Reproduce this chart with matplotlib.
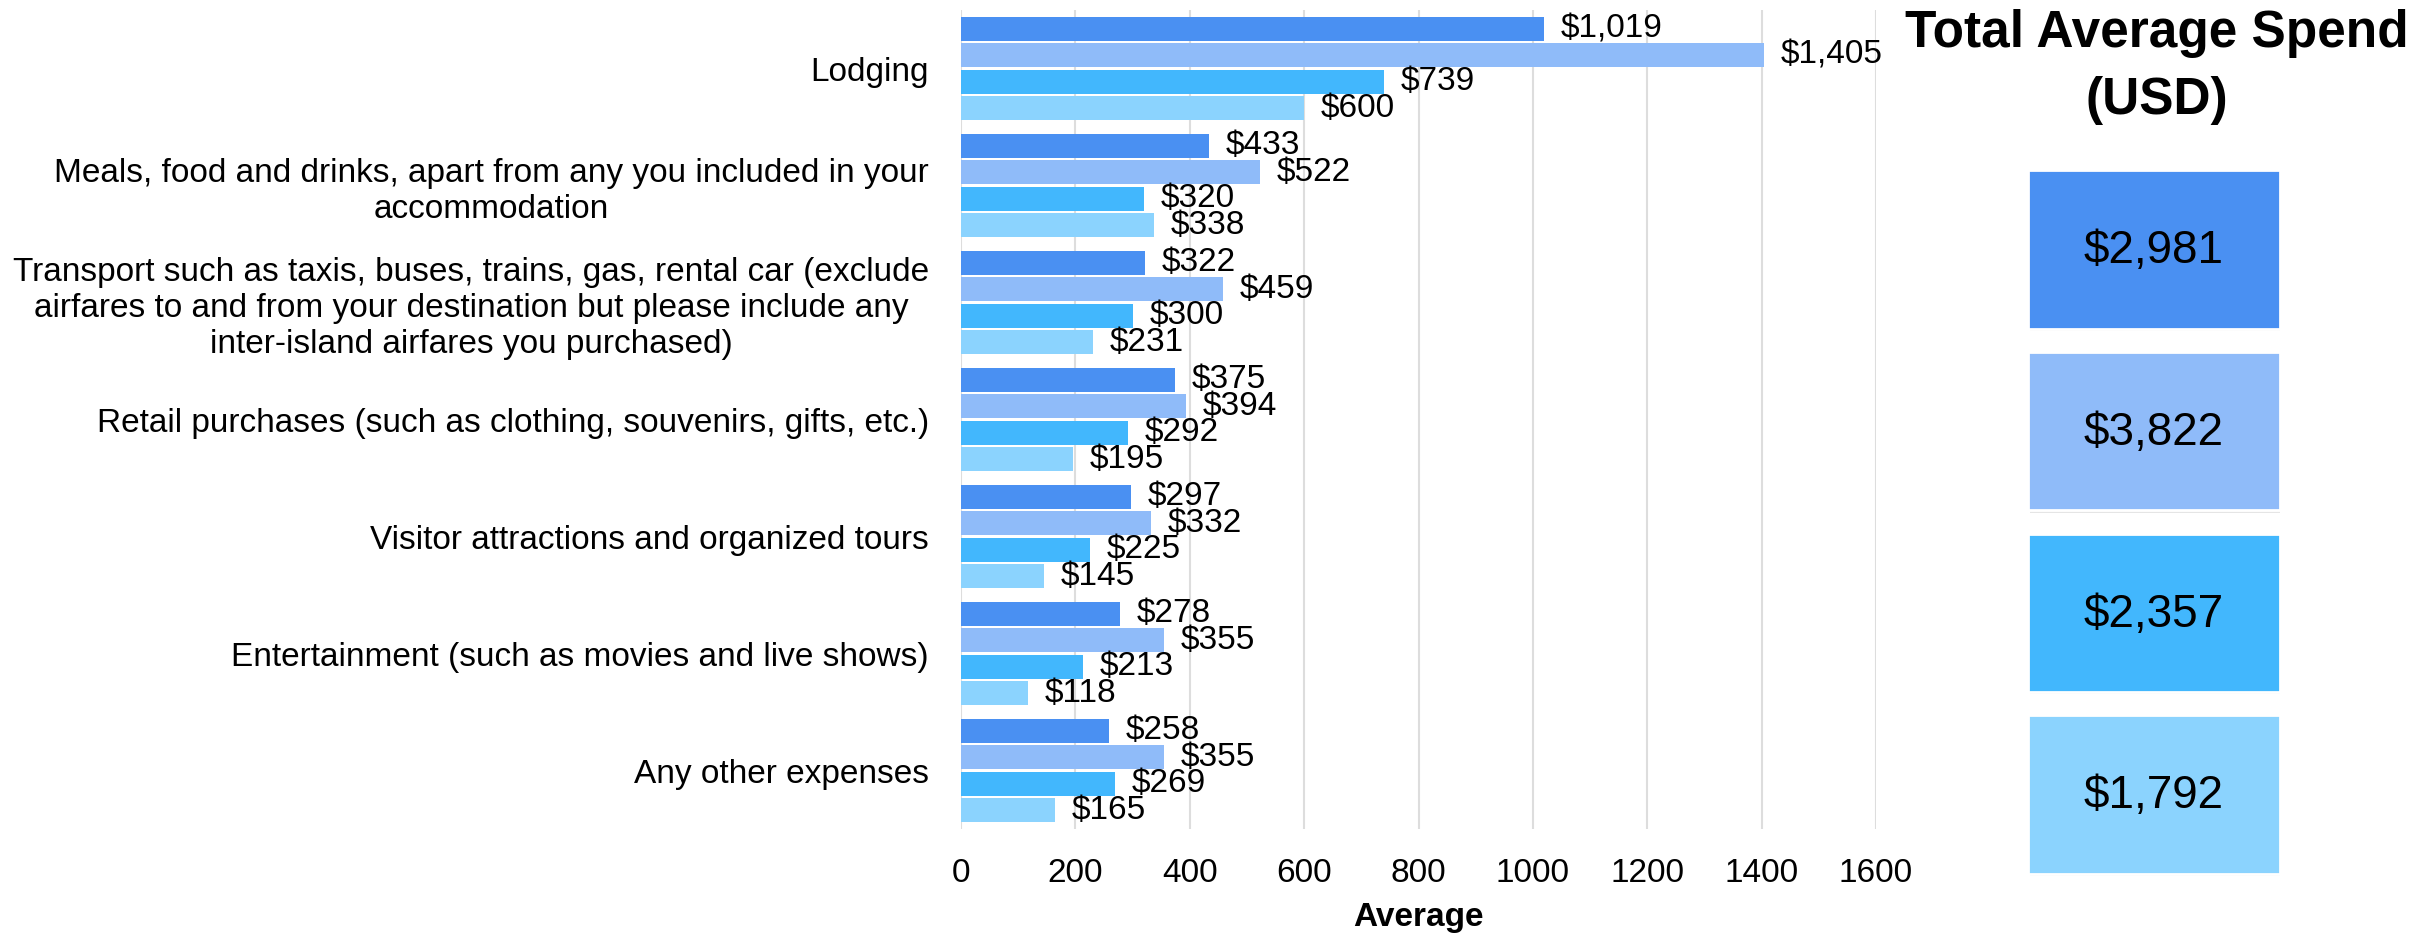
import matplotlib.pyplot as plt
import matplotlib.patheffects as pe
import numpy as np

plt.rcParams['font.family'] = ['Liberation Sans', 'DejaVu Sans']

# категории расходов
categories = [
    'Lodging',
    'Meals, food and drinks, apart from any you included in your\naccommodation',
    'Transport such as taxis, buses, trains, gas, rental car (exclude\n'
    'airfares to and from your destination but please include any\n'
    'inter-island airfares you purchased)',
    'Retail purchases (such as clothing, souvenirs, gifts, etc.)',
    'Visitor attractions and organized tours',
    'Entertainment (such as movies and live shows)',
    'Any other expenses',
]

# значения по четырём сериям
series_1 = [1019, 433, 322, 375, 297, 278, 258]
series_2 = [1405, 522, 459, 394, 332, 355, 355]
series_3 = [739, 320, 300, 292, 225, 213, 269]
series_4 = [600, 338, 231, 195, 145, 118, 165]

# итоговые суммы
totals = [2981, 3822, 2357, 1792]

x_ticks = [0, 200, 400, 600, 800, 1000, 1200, 1400, 1600]

colors = ['#4A90F2', '#8FBBF9', '#42B7FD', '#8BD3FE']

fig = plt.figure(figsize=(24.28, 9.38), dpi=100)
ax = fig.add_axes([961 / 2428, 1 - 829 / 938, 915 / 2428, 819 / 938])

y = np.arange(len(categories))
step = 0.226
bar_h = 0.205
for i, vals in enumerate([series_1, series_2, series_3, series_4]):
    bars = ax.barh(y + (i - 1.5) * step, vals, height=bar_h, color=colors[i], zorder=2)
    ax.bar_label(bars, labels=[f'${v:,}' for v in vals], padding=12, fontsize=24, clip_on=False)

ax.set_xlim(0, 1600)
ax.set_ylim(len(categories) - 0.5, -0.5)
ax.set_xticks(x_ticks)
ax.set_yticks(y)
ax.set_yticklabels(categories, fontsize=24, multialignment='center')
ax.tick_params(axis='x', labelsize=24, length=0, pad=21)
ax.tick_params(axis='y', length=0, pad=23)
ax.grid(axis='x', color='#dddddd', linewidth=1.5, zorder=0)
ax.set_axisbelow(True)
for s in ax.spines.values():
    s.set_visible(False)
ax.set_xlabel('Average', fontsize=24, fontweight='bold', labelpad=9)

# правая панель с итогами
fig.text(2157 / 2428, 1 - 67 / 938, 'Total Average Spend\n(USD)', ha='center', va='center',
         fontsize=37, fontweight='bold', linespacing=1.45)

ax2 = fig.add_axes([2028 / 2428, 1 - 885.5 / 938, 252 / 2428, 727 / 938])
yb = np.arange(len(totals))
boxes = ax2.barh(yb, [1] * len(totals), height=0.873, color=colors, edgecolor='white', linewidth=2,
                 path_effects=[pe.SimplePatchShadow(offset=(1.5, -1.5), shadow_rgbFace='#999999', alpha=0.25),
                               pe.Normal()])
for yi, t in zip(yb, totals):
    ax2.text(0.5, yi + 0.01, f'${t:,}', ha='center', va='center', fontsize=33)
ax2.set_xlim(0, 1)
ax2.set_ylim(len(totals) - 0.5, -0.5)
ax2.axis('off')

fig.savefig('out.png', dpi=100)
